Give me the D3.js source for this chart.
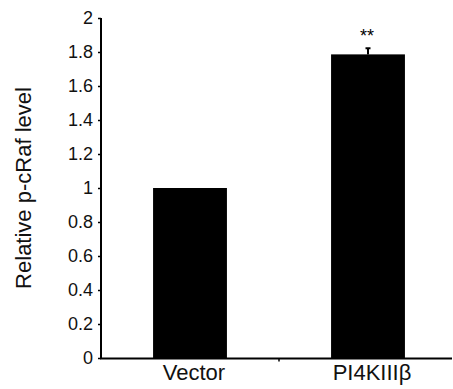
<!DOCTYPE html>
<html><head><meta charset="utf-8">
<script src="https://cdn.jsdelivr.net/npm/d3@7"></script>
<style>body{margin:0;background:#fff}svg{display:block;font-family:"Liberation Sans",Arial,sans-serif}</style>
</head><body>
<svg id="c" width="453" height="389"></svg>
<script>
const categories = ["Vector", "PI4KIIIβ"];
const values = [1.0, 1.786];
const errors = [0, 0.036];
const significance = ["", "**"];
const yTicks = [0, 0.2, 0.4, 0.6, 0.8, 1, 1.2, 1.4, 1.6, 1.8, 2];
const yTickLabels = ["0", "0.2", "0.4", "0.6", "0.8", "1", "1.2", "1.4", "1.6", "1.8", "2"];
const yTitle = "Relative p-cRaf level";

const svg = d3.select("#c");
const x = d3.scaleBand().domain(categories).range([101, 457]).paddingInner(0.585).paddingOuter(0.2925);
const y = d3.scaleLinear().domain([0, 2]).range([358, 18]);

// bars
svg.selectAll("rect.bar").data(categories).enter().append("rect")
  .attr("x", d => x(d)).attr("width", x.bandwidth())
  .attr("y", (d, i) => y(values[i])).attr("height", (d, i) => y(0) - y(values[i]))
  .attr("fill", "#000");

// error bars
categories.forEach((c, i) => {
  if (!errors[i]) return;
  const cx = x(c) + x.bandwidth() / 2;
  svg.append("line").attr("x1", cx).attr("x2", cx)
    .attr("y1", y(values[i])).attr("y2", y(values[i] + errors[i]))
    .attr("stroke", "#000").attr("stroke-width", 2);
  svg.append("line").attr("x1", cx - 2.5).attr("x2", cx + 2.5)
    .attr("y1", y(values[i] + errors[i])).attr("y2", y(values[i] + errors[i]))
    .attr("stroke", "#000").attr("stroke-width", 2);
  svg.append("text").attr("x", cx - 1).attr("y", y(values[i] + errors[i]) - 6)
    .attr("text-anchor", "middle").attr("font-size", 18).text(significance[i]);
});

// y axis
const yAxis = d3.axisLeft(y).tickValues(yTicks).tickSize(3).tickPadding(5)
  .tickFormat((d, i) => yTickLabels[i]);
const gy = svg.append("g").attr("transform", "translate(101,0)").call(yAxis);
gy.select(".domain").attr("stroke-width", 2).attr("d", `M0,${y(2)}V${y(0) + 1}`);
gy.selectAll(".tick line").attr("stroke-width", 1.5);
gy.selectAll("text").attr("font-size", 18).attr("fill", "#111").attr("font-family", '"Liberation Sans",Arial,sans-serif');

// x axis
const axisY = y(0) + 0.5;
svg.append("line").attr("x1", 100).attr("x2", 452).attr("y1", axisY).attr("y2", axisY)
  .attr("stroke", "#000").attr("stroke-width", 2);
const sepX = x(categories[1]) - x.step() * x.paddingInner() / 2;
svg.append("line").attr("x1", sepX).attr("x2", sepX).attr("y1", axisY).attr("y2", axisY + 3)
  .attr("stroke", "#000").attr("stroke-width", 1.5);
svg.selectAll("text.xl").data(categories).enter().append("text")
  .attr("x", d => x(d) + x.bandwidth() / 2 + 4).attr("y", 380)
  .attr("text-anchor", "middle").attr("font-size", 22).attr("fill", "#111").text(d => d);

// y title
svg.append("text").attr("transform", "translate(31,188) rotate(-90)")
  .attr("text-anchor", "middle").attr("font-size", 22).attr("fill", "#111").text(yTitle);
</script>
</body></html>
